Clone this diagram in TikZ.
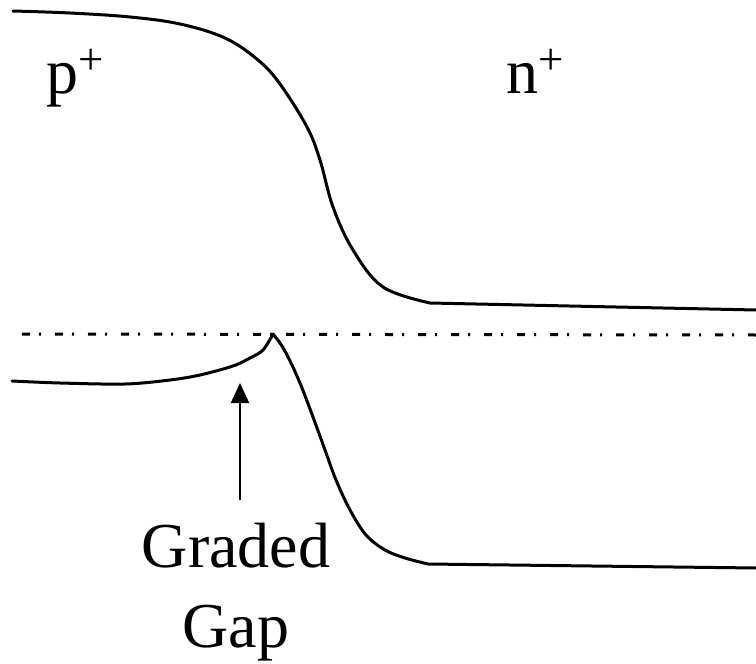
\documentclass[tikz,border=0pt]{standalone}
\usepackage{fontspec}
\setmainfont{Liberation Serif}
\usetikzlibrary{arrows.meta,positioning}

\begin{document}
\begin{tikzpicture}[
  x=0.5pt, y=-0.5pt,
  band/.style={
    line width=1.5pt,
    line join=round,
    line cap=round
  },
  refline/.style={
    line width=1.5pt,
    dash pattern=on 4pt off 4.5pt on 1pt off 7pt
  },
  lbl/.style={
    inner sep=0pt,
    font=\fontsize{32}{40}\selectfont
  },
  pointer/.style={
    line width=1pt,
    -{Triangle[length=10pt,width=9pt]}
  }
]
  \useasboundingbox (0,0) rectangle (756,664);

  % Conduction band edge
  \draw[band] plot[smooth, tension=0.6] coordinates {
    (13,11) (70,13) (130,17) (180,24) (225,38) (258,60) (280,84)
    (307,127) (320,160) (333,207) (353,250) (383,287) (430,303)}
    -- (756,310);

  % Fermi level
  \draw[refline] (22,334) -- (756,335);

  % Valence band edge with the graded-gap spike
  \draw[band] plot[smooth, tension=0.55] coordinates {
    (12,381) (60,383) (125,384) (170,380) (200,375) (233,366)
    (250,358) (263,350) (273,334)};
  \draw[band] plot[smooth, tension=0.55] coordinates {
    (273,334) (282,346) (292,365) (302,388) (313,417) (325,450)
    (336,480) (350,510) (366,535) (385,550) (405,558) (428,564)}
    -- (756,568);

  % Region labels
  \node[lbl, anchor=base west] (pside) at (46,93) {p\textsuperscript{+}};
  \node[lbl, anchor=base west] (nside) at (506,93) {n\textsuperscript{+}};

  % Graded gap label and pointer
  \node[lbl, align=center, anchor=base] (gg) at (236,647) {Graded\\Gap};
  \coordinate (spike) at (240,383);
  \draw[pointer] (gg.north -| spike) ++(0,-22) -- (spike);

\end{tikzpicture}
\end{document}
